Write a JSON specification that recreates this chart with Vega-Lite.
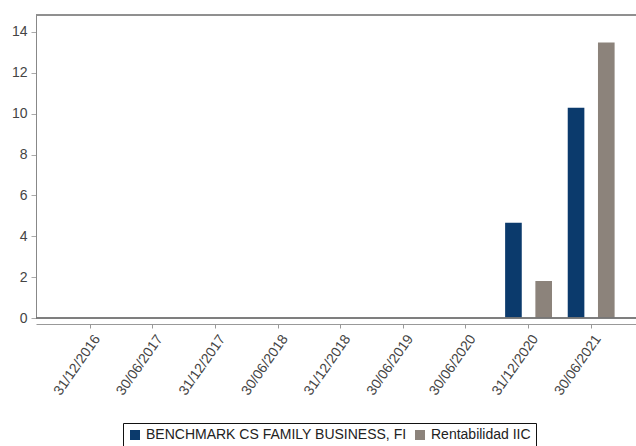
{
  "$schema": "https://vega.github.io/schema/vega-lite/v6.json",
  "width": 600,
  "height": 303,
  "autosize": {"type": "none"},
  "padding": {"left": 36, "top": 15, "right": 0, "bottom": 128},
  "background": "white",
  "config": {"view": {"stroke": null}, "font": "Liberation Sans"},
  "data": {
    "values": [
      {"fecha": "31/12/2020", "serie": "BENCHMARK CS FAMILY BUSINESS, FI", "valor": 4.66},
      {"fecha": "31/12/2020", "serie": "Rentabilidad IIC", "valor": 1.81},
      {"fecha": "30/06/2021", "serie": "BENCHMARK CS FAMILY BUSINESS, FI", "valor": 10.29},
      {"fecha": "30/06/2021", "serie": "Rentabilidad IIC", "valor": 13.48}
    ]
  },
  "layer": [
    {
      "mark": {"type": "bar"},
      "encoding": {
        "x": {
          "field": "fecha",
          "type": "nominal",
          "sort": null,
          "scale": {
            "domain": ["31/12/2016", "30/06/2017", "31/12/2017", "30/06/2018", "31/12/2018", "30/06/2019", "30/06/2020", "31/12/2020", "30/06/2021"],
            "paddingInner": 0,
            "paddingOuter": 0.292,
            "align": 0.63
          },
          "axis": {
            "title": null,
            "labelAngle": -55,
            "labelAlign": "right",
            "labelBaseline": "middle",
            "offset": 6,
            "tickSize": 4,
            "tickColor": "#999999",
            "domainColor": "#999999",
            "labelFontSize": 14,
            "labelColor": "#444444",
            "labelOffset": 7,
            "labelPadding": 8
          }
        },
        "xOffset": {
          "field": "serie",
          "type": "nominal",
          "scale": {"domain": ["BENCHMARK CS FAMILY BUSINESS, FI", "Rentabilidad IIC"], "paddingInner": 0.45, "paddingOuter": 0.26}
        },
        "y": {
          "field": "valor",
          "type": "quantitative",
          "scale": {"domain": [0, 14.83], "nice": false},
          "axis": {
            "title": null,
            "values": [0, 2, 4, 6, 8, 10, 12, 14],
            "grid": false,
            "domainColor": "#888888",
            "tickColor": "#aaaaaa",
            "tickSize": 5,
            "labelFontSize": 14,
            "labelColor": "#444444",
            "labelPadding": 4
          }
        },
        "color": {
          "field": "serie",
          "type": "nominal",
          "scale": {"domain": ["BENCHMARK CS FAMILY BUSINESS, FI", "Rentabilidad IIC"], "range": ["#0B3A6C", "#8C837B"]},
          "legend": {
            "title": null,
            "orient": "none",
            "legendX": 87,
            "legendY": 408,
            "direction": "horizontal",
            "strokeColor": "#111111",
            "padding": 5,
            "symbolType": "square",
            "symbolSize": 100,
            "symbolStrokeWidth": 0,
            "labelFontSize": 14,
            "labelColor": "#222222",
            "labelLimit": 400,
            "columnPadding": 6
          }
        }
      }
    },
    {
      "mark": {"type": "rule", "color": "#777777"},
      "encoding": {"y": {"datum": 0}}
    },
    {
      "mark": {"type": "rule", "color": "#888888"},
      "encoding": {"y": {"datum": 14.83}}
    }
  ]
}
